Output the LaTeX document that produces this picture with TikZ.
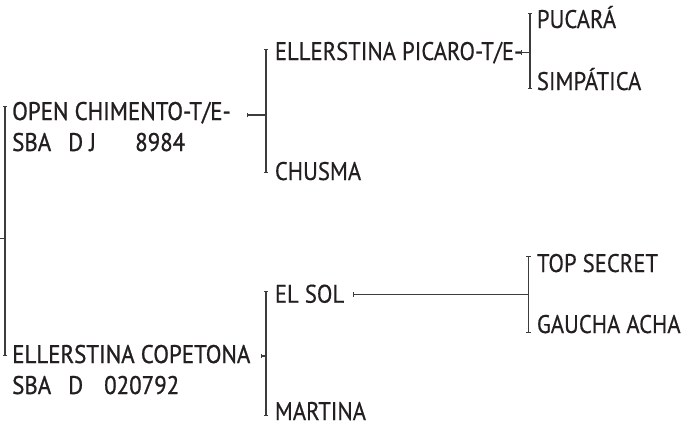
\documentclass[tikz,border=0pt]{standalone}
\usepackage{fontspec}
\setmainfont[FakeStretch=0.89,FakeBold=0.4]{PT Sans}
\newfontfamily\heavyfont[FakeStretch=0.9,FakeBold=0.9]{PT Sans}
\usetikzlibrary{arrows.meta}
\definecolor{ink}{HTML}{231F20}
\definecolor{rule}{HTML}{3C3C3C}
\begin{document}
\begin{tikzpicture}[x=1pt,y=-1pt,
  lbl/.style={anchor=base west,inner sep=0pt,text=ink,font=\fontsize{25.5}{31}\selectfont,align=left},
  top/.style={lbl,font=\heavyfont\fontsize{25.5}{31}\selectfont},
  brk/.style={draw=rule,line width=1.2pt,{Bar[width=4.5pt,line width=1.1pt]}-{Bar[width=4.5pt,line width=1.1pt]}},
  stub/.style={draw=rule,line width=1.2pt,{Bar[width=4.5pt,line width=1.1pt]}-},
  plain/.style={draw=rule,line width=1.2pt}]
\useasboundingbox (0,0) rectangle (688,423);
% labels (two-line nodes: base anchor is the last line)
\node[top] (s) at (12,151) {OPEN CHIMENTO-T/E-\\\makebox[56pt][l]{SBA}\makebox[67pt][l]{D J}8984};
\node[top] (d) at (12,394) {ELLERSTINA COPETONA\\\makebox[56pt][l]{SBA}\makebox[36pt][l]{D}020792};
\node[lbl] (ss) at (274.7,60) {ELLERSTINA PICARO-T/E-};
\node[lbl] (sd) at (274.7,180) {CHUSMA};
\node[lbl] (sss) at (536.7,28) {PUCARÁ};
\node[lbl] (ssd) at (536.7,90) {SIMPÁTICA};
\node[lbl] (ds) at (274.7,302.7) {EL SOL};
\node[lbl] (dd) at (274.7,420) {MARTINA};
\node[lbl] (dss) at (536.7,272) {TOP SECRET};
\node[lbl] (dsd) at (536.7,333) {GAUCHA ACHA};
% bracket coordinates
\coordinate (r0) at (0,238.5);
\coordinate (r1) at (5,238.5);
\coordinate (rt) at (5,105.5);
\coordinate (rb) at (5,356);
\coordinate (sa) at (247,115);
\coordinate (sb) at (266,115);
\coordinate (st) at (266,49);
\coordinate (sbt) at (266,173);
\coordinate (ssa) at (520.7,52.7);
\coordinate (ssb) at (530,52.7);
\coordinate (sst) at (530,12.7);
\coordinate (ssbt) at (530,89);
\coordinate (da) at (260.7,356);
\coordinate (db) at (266,356);
\coordinate (dt) at (266,290.7);
\coordinate (dbt) at (266,416);
\coordinate (dsa) at (352.7,294.3);
\coordinate (dsb) at (528.7,294.3);
\coordinate (dst) at (528.7,256);
\coordinate (dsbt) at (528.7,332.7);
% connectors
\draw[plain] (r0) -- (r1);
\draw[brk] (rt) -- (rb);
\draw[stub] (sa) -- (sb);
\draw[brk] (st) -- (sbt);
\draw[stub] (ssa) -- (ssb);
\draw[brk] (sst) -- (ssbt);
\draw[stub] (da) -- (db);
\draw[brk] (dt) -- (dbt);
\draw[stub] (dsa) -- (dsb);
\draw[brk] (dst) -- (dsbt);
\end{tikzpicture}
\end{document}
